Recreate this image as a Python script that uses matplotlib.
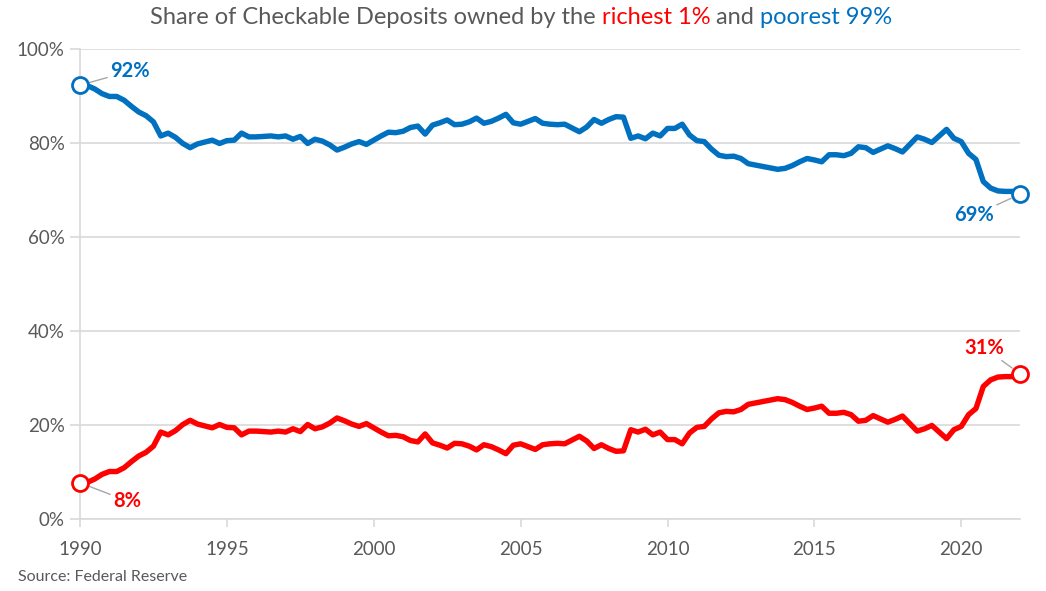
import matplotlib
matplotlib.use("Agg")
import matplotlib.pyplot as plt
import numpy as np

# Quarterly data, 1990Q1 .. 2022Q1
start_year = 1990
poorest_99 = [
    92.3, 92.2, 91.5, 90.5, 89.9, 89.9, 89.1, 87.8, 86.6, 85.8,
    84.5, 81.5, 82.1, 81.2, 79.9, 79.0, 79.8, 80.2, 80.6, 79.9,
    80.5, 80.6, 82.1, 81.3, 81.3, 81.4, 81.5, 81.3, 81.5, 80.8,
    81.4, 79.9, 80.8, 80.4, 79.6, 78.5, 79.1, 79.8, 80.3, 79.7,
    80.6, 81.5, 82.3, 82.2, 82.5, 83.3, 83.6, 81.9, 83.8, 84.3,
    84.9, 83.9, 84.0, 84.5, 85.3, 84.2, 84.6, 85.3, 86.1, 84.3,
    84.0, 84.6, 85.2, 84.2, 84.0, 83.9, 84.0, 83.2, 82.4, 83.4,
    85.0, 84.2, 85.0, 85.6, 85.5, 81.0, 81.5, 80.9, 82.1, 81.5,
    83.1, 83.1, 84.0, 81.7, 80.5, 80.3, 78.7, 77.4, 77.1, 77.2,
    76.7, 75.6, 75.3, 75.0, 74.7, 74.4, 74.6, 75.2, 76.0, 76.7,
    76.4, 76.0, 77.5, 77.5, 77.3, 77.8, 79.2, 79.0, 78.0, 78.7,
    79.4, 78.8, 78.1, 79.7, 81.3, 80.8, 80.1, 81.5, 82.9, 81.0,
    80.3, 77.8, 76.5, 71.8, 70.4, 69.8, 69.7, 69.7, 69.1,
]
richest_1 = [
    7.7, 7.8, 8.5, 9.5, 10.1, 10.1, 10.9, 12.2, 13.4, 14.2,
    15.5, 18.5, 17.9, 18.8, 20.1, 21.0, 20.2, 19.8, 19.4, 20.1,
    19.5, 19.4, 17.9, 18.7, 18.7, 18.6, 18.5, 18.7, 18.5, 19.2,
    18.6, 20.1, 19.2, 19.6, 20.4, 21.5, 20.9, 20.2, 19.7, 20.3,
    19.4, 18.5, 17.7, 17.8, 17.5, 16.7, 16.4, 18.1, 16.2, 15.7,
    15.1, 16.1, 16.0, 15.5, 14.7, 15.8, 15.4, 14.7, 13.9, 15.7,
    16.0, 15.4, 14.8, 15.8, 16.0, 16.1, 16.0, 16.8, 17.6, 16.6,
    15.0, 15.8, 15.0, 14.4, 14.5, 19.0, 18.5, 19.1, 17.9, 18.5,
    16.9, 16.9, 16.0, 18.3, 19.5, 19.7, 21.3, 22.6, 22.9, 22.8,
    23.3, 24.4, 24.7, 25.0, 25.3, 25.6, 25.4, 24.8, 24.0, 23.3,
    23.6, 24.0, 22.5, 22.5, 22.7, 22.2, 20.8, 21.0, 22.0, 21.3,
    20.6, 21.2, 21.9, 20.3, 18.7, 19.2, 19.9, 18.5, 17.1, 19.0,
    19.7, 22.2, 23.5, 28.2, 29.6, 30.2, 30.3, 30.3, 30.9,
]
year_ticks = [1990, 1995, 2000, 2005, 2010, 2015, 2020]
y_ticks = [0, 20, 40, 60, 80, 100]

title_parts = [("Share of Checkable Deposits owned by the ", "#595959"),
               ("richest 1%", "#FF0000"),
               (" and ", "#595959"),
               ("poorest 99%", "#0070C0")]
source_text = "Source: Federal Reserve"

BLUE = "#0070C0"
RED = "#FF0000"
GRAY_TXT = "#595959"
GRID = "#D9D9D9"

plt.rcParams['font.family'] = ['Lato', 'DejaVu Sans']

x = start_year + np.arange(len(poorest_99)) * 0.25

fig = plt.figure(figsize=(10.46, 5.91), dpi=100)
ax = fig.add_axes([80/1046, 1 - 519/591, (1020 - 80)/1046, (519 - 49)/591])

ax.plot(x, poorest_99, color=BLUE, lw=3.9, solid_joinstyle='round', zorder=3)
ax.plot(x, richest_1, color=RED, lw=3.9, solid_joinstyle='round', zorder=3)

for series, col in ((poorest_99, BLUE), (richest_1, RED)):
    ax.plot([x[0], x[-1]], [series[0], series[-1]], ls='none', marker='o',
            ms=11.5, mfc='white', mec=col, mew=2.0, zorder=4, clip_on=False)

ax.set_xlim(1990, 2022)
ax.set_ylim(0, 100)
ax.set_yticks(y_ticks)
ax.set_yticklabels([f"{v}%" for v in y_ticks])
ax.set_xticks(year_ticks)
ax.set_xticklabels([str(v) for v in year_ticks])
ax.yaxis.grid(True, color=GRID, lw=1.2)
ax.set_axisbelow(True)
for s in ("top", "right"):
    ax.spines[s].set_visible(False)
ax.spines["left"].set_color(GRID)
ax.spines["bottom"].set_color(GRID)
ax.spines["left"].set_linewidth(1.2)
ax.spines["bottom"].set_linewidth(1.2)
ax.tick_params(axis='y', length=7, color=GRID, width=1.2, labelsize=13.5,
               labelcolor=GRAY_TXT, pad=4)
ax.tick_params(axis='x', length=6, color=GRID, width=1.2, labelsize=13.5,
               labelcolor=GRAY_TXT, pad=10)

lead = dict(arrowstyle='-', color='#A6A6A6', lw=1.0, shrinkA=0, shrinkB=7)
lab_kw = dict(textcoords='offset pixels', fontsize=14.5, fontweight='bold',
              va='center', arrowprops=lead, annotation_clip=False)
ax.annotate(f"{poorest_99[0]:.0f}%", xy=(x[0], poorest_99[0]), xytext=(30, 14),
            color=BLUE, ha='left', **lab_kw)
ax.annotate(f"{richest_1[0]:.0f}%", xy=(x[0], richest_1[0]), xytext=(33, -18),
            color=RED, ha='left', **lab_kw)
ax.annotate(f"{poorest_99[-1]:.0f}%", xy=(x[-1], poorest_99[-1]), xytext=(-26, -21),
            color=BLUE, ha='right', **lab_kw)
ax.annotate(f"{richest_1[-1]:.0f}%", xy=(x[-1], richest_1[-1]), xytext=(-16, 26),
            color=RED, ha='right', **lab_kw)

# Multi-coloured title
renderer = fig.canvas.get_renderer()
texts = []
for s, c in title_parts:
    t = fig.text(0, 1 - 17/591, s, color=c, fontsize=17, ha='left', va='center')
    texts.append(t)
widths = [t.get_window_extent(renderer).width for t in texts]
total = sum(widths)
cur = 521 - total / 2
for t, w in zip(texts, widths):
    t.set_x(cur / 1046)
    cur += w

fig.text(18/1046, 1 - 577/591, source_text, color=GRAY_TXT, fontsize=11.5,
         ha='left', va='center')

fig.savefig("out.png", dpi=100, facecolor='white')
